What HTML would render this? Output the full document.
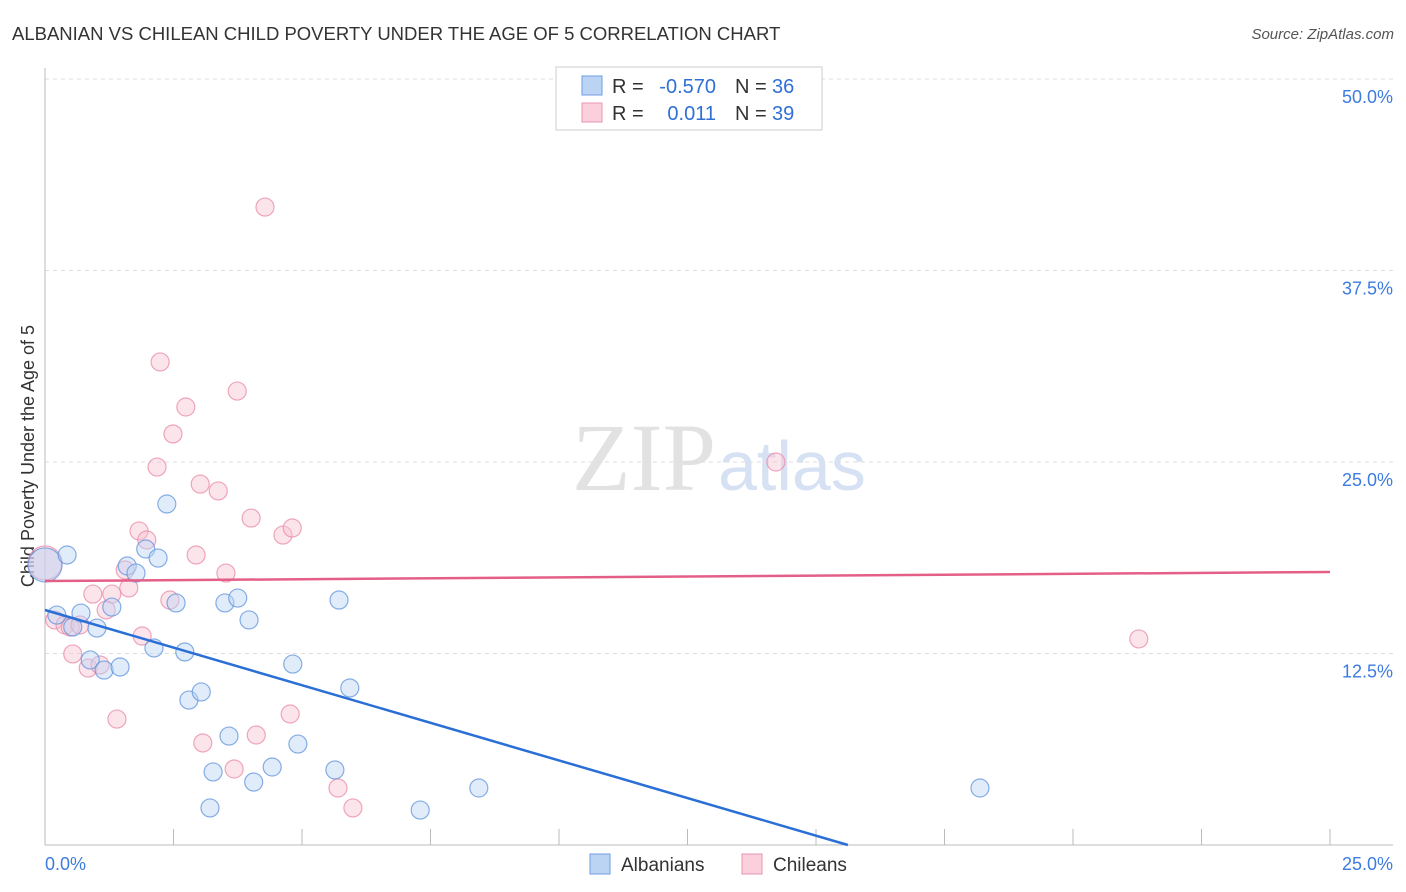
<!DOCTYPE html>
<html><head><meta charset="utf-8"><style>
body{margin:0;background:#fff;font-family:"Liberation Sans",sans-serif}
svg{display:block}
</style></head><body>
<svg id="c" width="1406" height="892" xmlns="http://www.w3.org/2000/svg">
<text x="12" y="40" font-size="18.5" fill="#333">ALBANIAN VS CHILEAN CHILD POVERTY UNDER THE AGE OF 5 CORRELATION CHART</text>
<text x="1394" y="39" font-size="15" fill="#555" font-style="italic" text-anchor="end">Source: ZipAtlas.com</text>
<text x="0" y="0" transform="translate(34,456) rotate(-90)" font-size="18" fill="#333" text-anchor="middle">Child Poverty Under the Age of 5</text>
<text x="716" y="490" font-size="96" fill="#e2e2e2" text-anchor="end" font-family="Liberation Serif">ZIP</text>
<text x="718" y="490" font-size="70" fill="#d6e2f4">atlas</text>
<g id="grid"></g><g id="axes"></g><g id="pts"></g><g id="lines"></g>
<g>
<rect x="556" y="67" width="266" height="63" fill="#fff" stroke="#ccc"/>
<rect x="582" y="76" width="20" height="19" fill="#bcd4f4" stroke="#6d9ee0"/>
<rect x="582" y="103" width="20" height="19" fill="#fbd0dc" stroke="#ea96b0"/>
<text x="612" y="93" font-size="20" fill="#333">R =</text>
<text x="716" y="93" font-size="20" fill="#2f6fd6" text-anchor="end">-0.570</text>
<text x="735" y="93" font-size="20" fill="#333">N =</text>
<text x="772" y="93" font-size="20" fill="#2f6fd6">36</text>
<text x="612" y="120" font-size="20" fill="#333">R =</text>
<text x="716" y="120" font-size="20" fill="#2f6fd6" text-anchor="end">0.011</text>
<text x="735" y="120" font-size="20" fill="#333">N =</text>
<text x="772" y="120" font-size="20" fill="#2f6fd6">39</text>
</g>
<g>
<rect x="590" y="854" width="20" height="20" fill="#bcd4f4" stroke="#6d9ee0"/>
<text x="621" y="871" font-size="19" fill="#333">Albanians</text>
<rect x="742" y="854" width="20" height="20" fill="#fbd0dc" stroke="#ea96b0"/>
<text x="773" y="871" font-size="19" fill="#333">Chileans</text>
</g>
</svg>
<script>
const yTicks=[12.5,25,37.5,50];
const yTickLabels=["12.5%","25.0%","37.5%","50.0%"];
const xTickLabels=["0.0%","25.0%"];
const blueX=[0,.43,.23,.70,.54,1.01,1.30,.88,1.15,1.46,1.60,1.77,1.96,2.20,2.37,2.55,2.12,2.72,2.80,3.04,3.50,3.75,3.97,3.27,3.58,4.06,4.42,4.92,4.82,5.72,5.93,5.64,3.21,7.30,8.44,18.19];
const blueY=[18.28,18.93,15.01,15.14,14.23,14.16,15.53,12.08,11.42,11.62,18.21,17.75,19.32,18.73,22.26,15.80,12.86,12.60,9.46,9.99,15.80,16.12,14.69,4.77,7.11,4.11,5.09,6.59,11.81,15.99,10.25,4.90,2.42,2.28,3.72,3.72];
const pinkX=[0,.19,.39,.49,.68,.54,.84,1.07,1.40,.93,1.30,1.19,1.63,1.56,1.83,1.98,2.24,2.74,2.49,2.18,3.02,3.37,2.94,3.52,2.43,1.89,3.74,4.01,4.63,4.81,4.28,3.07,3.68,4.11,4.77,5.70,5.99,14.22,21.28];
const pinkY=[18.41,14.69,14.36,14.23,14.36,12.47,11.55,11.75,8.22,16.38,16.38,15.34,16.78,17.95,20.50,19.91,31.53,28.59,26.83,24.67,23.56,23.11,18.93,17.75,15.99,13.64,29.63,21.34,20.23,20.69,41.64,6.66,4.96,7.18,8.55,3.72,2.42,25.00,13.45];
const blueTrend=[[0,15.34],[15.62,0]];
const pinkTrend=[[0,17.23],[25,17.82]];
const X=v=>45+v/25*1285, Y=v=>845-v/12.5*191.5;
const NS="http://www.w3.org/2000/svg";
function mk(t,a,p){const e=document.createElementNS(NS,t);for(const k in a)e.setAttribute(k,a[k]);document.getElementById(p).appendChild(e);return e;}
yTicks.forEach((t,i)=>{
 const l=mk('line',{x1:45,x2:1393,y1:Y(t),y2:Y(t),stroke:'#ddd','stroke-dasharray':'4,4'},'grid');
 
 
 const tx=mk('text',{x:1393,y:Y(t)+24,'font-size':18,fill:'#3d7be0','text-anchor':'end'},'grid');tx.textContent=yTickLabels[i];
 
 
});
const ax=mk('line',{x1:45,x2:45,y1:68,y2:845,stroke:'#bbb'},'axes');


const bx=mk('line',{x1:45,x2:1393,y1:845,y2:845,stroke:'#bbb'},'axes');


for(let i=0;i<=10;i++){const t=mk('line',{x1:X(i*2.5),x2:X(i*2.5),y1:829,y2:845,stroke:'#bbb'},'axes');
 
 }
const x0=mk('text',{x:45,y:870,'font-size':18,fill:'#3d7be0'},'axes');x0.textContent=xTickLabels[0];


const x1=mk('text',{x:1393,y:870,'font-size':18,fill:'#3d7be0','text-anchor':'end'},'axes');x1.textContent=xTickLabels[1];


function pts(xs,ys,f,s,name){xs.forEach((v,i)=>{const r=(v===0)?17:9;
 const c=mk('circle',{cx:X(v),cy:Y(ys[i]),r:r,fill:f,'fill-opacity':(v===0)?0.5:0.45,stroke:s,'stroke-opacity':0.75,'stroke-width':1.2},'pts');
 
 });}
pts(pinkX,pinkY,'#f8c3d3','#e98aa8','chilean-point');
pts(blueX,blueY,'#bcd4f4','#5f93dc','albanian-point');
const bl=mk('line',{x1:X(blueTrend[0][0]),y1:Y(blueTrend[0][1]),x2:X(blueTrend[1][0]),y2:Y(blueTrend[1][1]),stroke:'#2a6fd6','stroke-width':2.5},'lines');


const pl=mk('line',{x1:X(pinkTrend[0][0]),y1:Y(pinkTrend[0][1]),x2:X(pinkTrend[1][0]),y2:Y(pinkTrend[1][1]),stroke:'#e45f88','stroke-width':2.5},'lines');


</script>
</body></html>
